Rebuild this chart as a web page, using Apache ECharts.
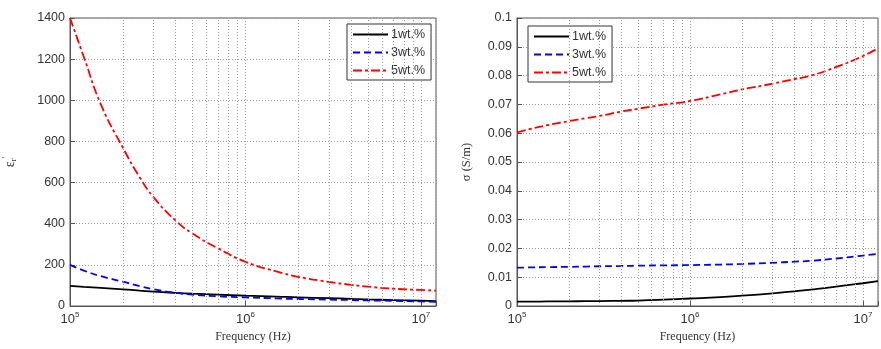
<!DOCTYPE html>
<html>
<head>
<meta charset="utf-8">
<script src="https://cdn.jsdelivr.net/npm/echarts@6/dist/echarts.min.js"></script>
<style>
  html, body { margin: 0; padding: 0; background: #fff; }
  #chart { width: 881px; height: 349px; }
</style>
</head>
<body>
<div id="chart"></div>
<script>
// frequency points (Hz)
const freq = [1e5, 1.2e5, 1.5e5, 2e5, 2.5e5, 3e5, 4e5, 5e5, 7e5, 1e6, 1.5e6, 2e6, 3e6, 4e6, 5e6, 7e6, 1e7, 1.22e7]

// relative permittivity
const epsW1 = [98, 93, 88, 81, 75, 70, 64, 60, 55, 50, 46, 42, 38, 35, 32, 29, 26, 24]
const epsW3 = [200, 172, 145, 118, 96, 81, 64, 55, 47, 42, 37, 34, 31, 29, 27, 25, 22, 20]
const epsW5 = [1400, 1210, 980, 770, 625, 528, 415, 352, 280, 215, 168, 142, 117, 103, 94, 84, 78, 75]

// conductivity (S/m)
const sigW1 = [0.0015, 0.0015, 0.0016, 0.0016, 0.0017, 0.0017, 0.0018, 0.0019, 0.0022, 0.0026, 0.0031, 0.0036, 0.0044, 0.0051, 0.0057, 0.0067, 0.0079, 0.0086]
const sigW3 = [0.0133, 0.0134, 0.0135, 0.0136, 0.0137, 0.0138, 0.0139, 0.014, 0.0141, 0.0142, 0.0144, 0.0146, 0.015, 0.0154, 0.0157, 0.0165, 0.0175, 0.0181]
const sigW5 = [0.0603, 0.0615, 0.0628, 0.0642, 0.0652, 0.066, 0.0675, 0.0685, 0.0699, 0.0712, 0.0735, 0.0752, 0.0772, 0.0788, 0.08, 0.083, 0.0868, 0.0895]

const seriesNames = ['1wt.%', '3wt.%', '5wt.%']
const minorTicks = [2e5, 3e5, 4e5, 5e5, 6e5, 7e5, 8e5, 9e5, 2e6, 3e6, 4e6, 5e6, 6e6, 7e6, 8e6, 9e6]

const pair = (ys) => freq.map((f, i) => [f, ys[i]])

const dotted = { color: '#9a9a9a', type: [1, 2], width: 1 }
const axisColor = '#555'

const xAxisBase = (gridIndex) => ({
  type: 'log',
  logBase: 10,
  gridIndex,
  min: 1e5,
  max: 1.22e7,
  name: 'Frequency (Hz)',
  nameLocation: 'middle',
  nameGap: 17,
  nameTextStyle: { fontFamily: 'Liberation Serif', fontSize: 12, color: '#333' },
  axisLine: { lineStyle: { color: axisColor } },
  axisTick: { inside: true, length: 5, lineStyle: { color: axisColor } },
  splitLine: { show: true, lineStyle: dotted },
  axisLabel: {
    color: '#333',
    fontFamily: 'Liberation Sans',
    fontSize: 13,
    margin: 5,
    formatter: (v) => {
      const e = Math.round(Math.log10(v))
      if (Math.abs(Math.log10(v) - e) > 1e-6) return ''
      return '10{s|' + e + '}'
    },
    rich: { s: { fontSize: 8, fontFamily: 'Liberation Sans', color: '#333', padding: [0, 0, 9, 0] } },
  },
})

const yAxisBase = (gridIndex) => ({
  type: 'value',
  gridIndex,
  nameLocation: 'middle',
  axisLine: { show: true, lineStyle: { color: axisColor } },
  axisTick: { show: true, inside: true, length: 5, lineStyle: { color: axisColor } },
  splitLine: { show: true, lineStyle: dotted },
  axisLabel: {
    color: '#333',
    fontFamily: 'Liberation Sans',
    fontSize: 12.5,
    margin: 5,
    formatter: (v) => String(+v.toFixed(4)),
  },
})

const lineStyles = [
  { color: '#000000', width: 1.8, type: 'solid' },
  { color: '#0000ff', width: 1.8, type: [7, 4] },
  { color: '#ff0000', width: 1.8, type: [9, 3, 3, 3] },
]

const makeSeries = (name, ys, idx, axisIndex) => ({
  name,
  type: 'line',
  xAxisIndex: axisIndex,
  yAxisIndex: axisIndex,
  data: pair(ys),
  smooth: true,
  symbol: 'none',
  z: 3,
  color: lineStyles[idx].color,
  lineStyle: lineStyles[idx],
})

const minorGrid = (axisIndex) => ({
  type: 'line',
  xAxisIndex: axisIndex,
  yAxisIndex: axisIndex,
  data: [],
  silent: true,
  z: 1,
  markLine: {
    silent: true,
    symbol: 'none',
    label: { show: false },
    lineStyle: dotted,
    animation: false,
    data: minorTicks.map((t) => ({ xAxis: t })),
  },
})

const legendBase = (left, top) => ({
  orient: 'vertical',
  left,
  top,
  data: seriesNames,
  itemWidth: 35,
  itemHeight: 10,
  itemGap: 5,
  padding: [4, 6, 3, 5],
  borderColor: '#333',
  borderWidth: 1,
  borderRadius: 0,
  backgroundColor: '#fff',
  itemStyle: { opacity: 0 },
  textStyle: { fontFamily: 'Liberation Sans', fontSize: 12.5, color: '#333', padding: [0, 0, 0, -2] },
  selectedMode: false,
})

const option = {
  animation: false,
  backgroundColor: '#fff',
  grid: [
    { left: 69, top: 18, width: 367, height: 288, show: true, borderColor: axisColor, borderWidth: 1 },
    { left: 517, top: 18, width: 368, height: 288, show: true, borderColor: axisColor, borderWidth: 1 },
  ],
  legend: [legendBase(347, 24), legendBase(528, 26)],
  xAxis: [xAxisBase(0), xAxisBase(1)],
  yAxis: [
    {
      ...yAxisBase(0),
      min: 0,
      max: 1400,
      interval: 200,
      name: '{e|ε}{r|r}{p|\'}',
      nameGap: 50,
      nameTextStyle: {
        rich: {
          e: { fontFamily: 'Liberation Serif', fontSize: 14, color: '#333' },
          r: { fontFamily: 'Liberation Serif', fontSize: 9, color: '#333', padding: [7, 0, 0, 0] },
          p: { fontFamily: 'Liberation Serif', fontSize: 10, color: '#333', padding: [0, 0, 9, 0] },
        },
      },
    },
    {
      ...yAxisBase(1),
      min: 0,
      max: 0.1,
      interval: 0.01,
      name: 'σ (S/m)',
      nameGap: 44,
      nameTextStyle: { fontFamily: 'Liberation Serif', fontSize: 12.5, color: '#333' },
    },
  ],
  series: [
    minorGrid(0),
    minorGrid(1),
    makeSeries(seriesNames[0], epsW1, 0, 0),
    makeSeries(seriesNames[1], epsW3, 1, 0),
    makeSeries(seriesNames[2], epsW5, 2, 0),
    makeSeries(seriesNames[0], sigW1, 0, 1),
    makeSeries(seriesNames[1], sigW3, 1, 1),
    makeSeries(seriesNames[2], sigW5, 2, 1),
  ],
}

const myChart = echarts.init(document.getElementById('chart'))
myChart.setOption(option)
</script>
</body>
</html>
